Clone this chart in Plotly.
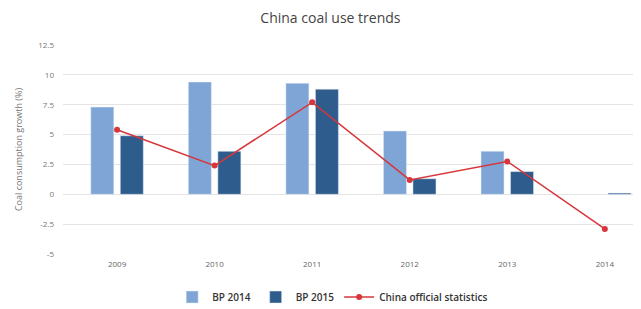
import plotly.graph_objects as go

years = ["2009", "2010", "2011", "2012", "2013", "2014"]
bp2014 = [7.3, 9.4, 9.3, 5.3, 3.6, None]
bp2015 = [4.9, 3.6, 8.8, 1.3, 1.9, 0.1]
official = [5.4, 2.4, 7.7, 1.2, 2.75, -2.9]
y_ticks = [-5, -2.5, 0, 2.5, 5, 7.5, 10, 12.5]
y_tick_text = ["-5", "-2.5", "0", "2.5", "5", "7.5", "10", "12.5"]

fig = go.Figure()
fig.add_trace(go.Bar(x=years, y=bp2014, name="BP 2014", marker_color="#7fa5d6"))
fig.add_trace(go.Bar(x=years, y=bp2015, name="BP 2015", marker_color="#2e5c8c"))
fig.add_trace(go.Scatter(x=years, y=official, name="China official statistics",
                         mode="lines+markers",
                         line=dict(color="#d7363c", width=1.5),
                         marker=dict(color="#d7363c", size=6)))

fig.update_layout(
    width=641, height=309,
    margin=dict(l=55, r=11, t=37, b=63, autoexpand=False),
    paper_bgcolor="white", plot_bgcolor="white",
    font=dict(family="Open Sans, sans-serif", color="#666666"),
    title=dict(text="China coal use trends", x=0.503, xanchor="center", y=0.968, yanchor="middle",
               font=dict(size=14, color="#444444")),
    barmode="group", bargap=0.395, bargroupgap=0.22,
    showlegend=True,
    legend=dict(orientation="h", x=0.469, xanchor="center", y=-0.206, yanchor="middle",
                font=dict(size=10, color="#333333", weight=600), itemwidth=30,
                tracegroupgap=0, traceorder="normal"),
    xaxis=dict(type="category", range=[-0.554, 5.34], showgrid=False, showline=False,
               ticks="", tickfont=dict(size=8, color="#666666"), ticklabelstandoff=4),
    yaxis=dict(range=[-5, 12.5], tickvals=y_ticks, ticktext=y_tick_text,
               gridcolor="#e4e4e4", gridwidth=1, zeroline=False, showline=False,
               tickfont=dict(size=8, color="#777777"), ticklabelstandoff=8,
               title=dict(text="Coal consumption growth (%)", font=dict(size=9, color="#777777"),
                          standoff=14)),
)

fig.write_html("out.html")
